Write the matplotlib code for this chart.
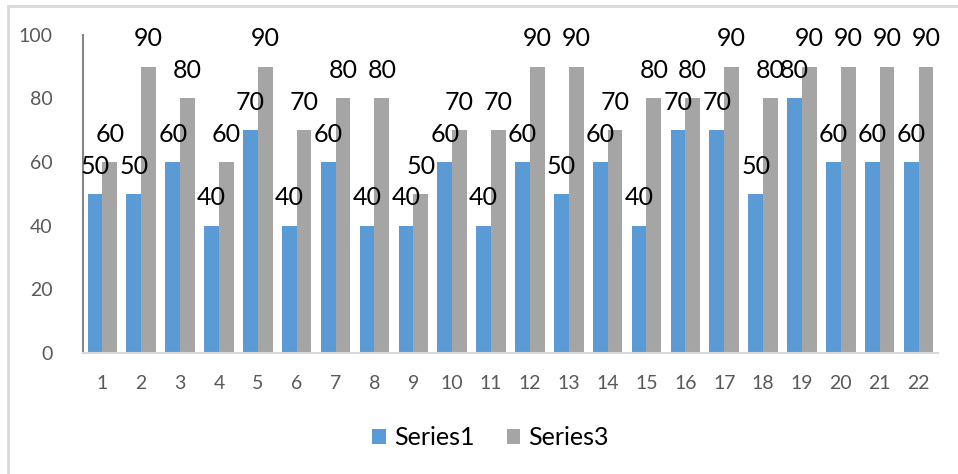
import numpy as np
import matplotlib
matplotlib.use("Agg")
import matplotlib.pyplot as plt
from matplotlib.patches import Rectangle

categories = [str(i) for i in range(1, 23)]
series1 = [50, 50, 60, 40, 70, 40, 60, 40, 40, 60, 40, 60, 50, 60, 40, 70, 70, 50, 80, 60, 60, 60]
series3 = [60, 90, 80, 60, 90, 70, 80, 80, 50, 70, 70, 90, 90, 70, 80, 80, 90, 80, 90, 90, 90, 90]
y_ticks = [0, 20, 40, 60, 80, 100]

plt.rcParams['font.family'] = ['Lato', 'DejaVu Sans']

fig = plt.figure(figsize=(9.58, 4.74), dpi=100)
ax = fig.add_axes([0.0866, 0.2553, 0.8925, 0.6713])

# outer chart border (only top and left visible in the reference)
fig.patches.append(Rectangle((8 / 958, -0.05), 1.1, 1 - 6 / 474 + 0.05,
                             transform=fig.transFigure, fill=False,
                             edgecolor='#d9d9d9', linewidth=2))

x = np.arange(len(categories))
w = 0.38
b1 = ax.bar(x - w / 2, series1, w, color='#5B9BD5', label='Series1')
b3 = ax.bar(x + w / 2, series3, w, color='#A5A5A5', label='Series3')

# value labels above each bar
for bars in (b1, b3):
    for rect in bars:
        h = rect.get_height()
        ax.annotate(str(h), (rect.get_x() + rect.get_width() / 2, h),
                    xytext=(0, 20), textcoords='offset points',
                    ha='center', va='center', fontsize=18, color='black')

ax.set_xlim(-0.5, len(categories) - 0.5)
ax.set_ylim(0, 100)
ax.set_xticks(x)
ax.set_xticklabels(categories)
ax.set_yticks(y_ticks)
ax.tick_params(axis='both', length=0, labelsize=14, colors='#595959')
ax.tick_params(axis='x', pad=16)
ax.tick_params(axis='y', pad=22)

for s in ('top', 'right'):
    ax.spines[s].set_visible(False)
ax.spines['left'].set_color('#868686')
ax.spines['left'].set_linewidth(1.5)
ax.spines['bottom'].set_color('#d9d9d9')
ax.spines['bottom'].set_linewidth(1.5)

fig.legend(handles=[b1, b3], loc='center', bbox_to_anchor=(0.512, 0.077),
           ncol=2, frameon=False, fontsize=18, handlelength=0.55,
           handleheight=0.55, handletextpad=0.3, columnspacing=1.3)

plt.savefig("out.png", dpi=100)
